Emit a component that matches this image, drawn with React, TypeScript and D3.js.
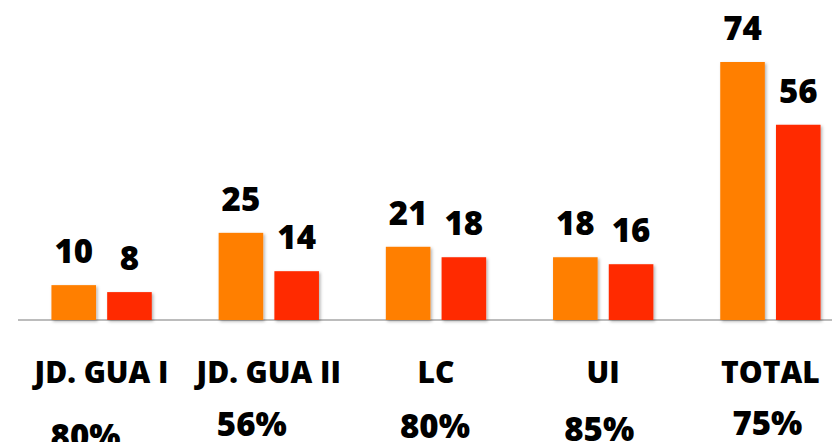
import { scaleBand, scaleLinear } from 'd3';

const width = 832;
const height = 442;

const categories = ['JD. GUA I', 'JD. GUA II', 'LC', 'UI', 'TOTAL'];
const seriesKeys = ['a', 'b'];
const valuesA = [10, 25, 21, 18, 74];
const valuesB = [8, 14, 18, 16, 56];
const percentLabels = ['80%', '56%', '80%', '85%', '75%'];

// the percent labels sit a little off-centre in the original
const pctDx = [-16, -17, -1, -4, -3];
const pctBaseline = [448, 436, 438, 441, 435];

const colors = ['#ff7f00', '#ff2a00'];
const font = "'Open Sans', sans-serif";

const baseY = 320;
const axisLeft = 18;

export default function App() {
  const xScale = scaleBand()
    .domain(categories)
    .range([axisLeft, axisLeft + 836])
    .paddingInner(0.4)
    .paddingOuter(0.2);
  const inner = scaleBand()
    .domain(seriesKeys)
    .range([0, xScale.bandwidth()])
    .paddingInner(0.2);
  const yScale = scaleLinear().domain([0, 74]).range([baseY, 62]);

  const bars = categories.map((c, i) => {
    const x0 = xScale(c) as number;
    const cx = x0 + xScale.bandwidth() / 2;
    const vals = [valuesA[i], valuesB[i]];
    return (
      <g key={c}>
        {vals.map((v, j) => {
          const bx = x0 + (inner(seriesKeys[j]) as number);
          const by = yScale(v);
          return (
            <g key={j}>
              <rect
                x={bx}
                y={by}
                width={inner.bandwidth()}
                height={baseY - by}
                fill={colors[j]}
                filter="url(#shadow)"
              />
              <text
                x={bx + inner.bandwidth() / 2}
                y={by - 22}
                textAnchor="middle"
                fontFamily={font}
                fontWeight={800}
                fontSize={33}
                fill="#000"
              >
                {v}
              </text>
            </g>
          );
        })}
        <text
          x={cx}
          y={382.5}
          textAnchor="middle"
          fontFamily={font}
          fontWeight={800}
          fontSize={30}
          fill="#000"
        >
          {c}
        </text>
        <text
          x={cx + pctDx[i]}
          y={pctBaseline[i]}
          textAnchor="middle"
          fontFamily={font}
          fontWeight={800}
          fontSize={33}
          fill="#000"
        >
          {percentLabels[i]}
        </text>
      </g>
    );
  });

  return (
    <svg
      width={width}
      height={height}
      style={{ position: 'absolute', left: 0, top: 0, background: '#fff' }}
    >
      <defs>
        <filter id="shadow" x="-20%" y="-20%" width="140%" height="140%">
          <feDropShadow dx={1.5} dy={1.5} stdDeviation={1.5} floodColor="#000" floodOpacity={0.3} />
        </filter>
      </defs>
      <line x1={axisLeft} x2={width} y1={baseY} y2={baseY} stroke="#a6a6a6" strokeWidth={1.5} />
      {bars}
    </svg>
  );
}
